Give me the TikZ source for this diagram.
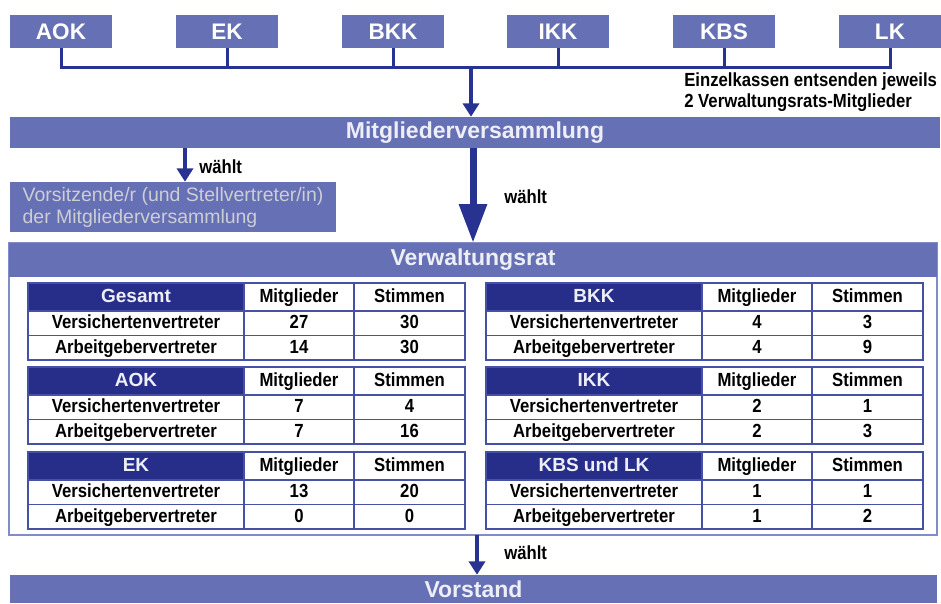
\documentclass[tikz,border=0pt]{standalone}
\usepackage{fontspec}
\setmainfont{Liberation Sans}
\newfontfamily\condfont[FakeStretch=0.88]{Liberation Sans}
\usetikzlibrary{arrows.meta}

\definecolor{balkenblau}{RGB}{102,112,180}
\definecolor{kopfblau}{RGB}{38,46,138}
\definecolor{linienblau}{RGB}{40,50,145}
\definecolor{gitterblau}{RGB}{70,80,165}
\definecolor{rahmenblau}{RGB}{130,140,200}
\definecolor{hellschrift}{RGB}{238,238,246}
\definecolor{grauschrift}{RGB}{205,205,212}

\newcommand{\pix}[1]{#1*0.75pt}

\tikzset{
  kasse/.style={fill=balkenblau, text=white, inner sep=0pt,
    minimum width=\pix{102}, minimum height=\pix{33},
    font=\fontsize{16.9}{20}\selectfont\bfseries},
  balken/.style={fill=balkenblau, text=hellschrift, inner sep=0pt,
    font=\fontsize{17.25}{20}\selectfont\bfseries},
  vorsbox/.style={fill=balkenblau, text=grauschrift, inner sep=0pt, align=left,
    minimum width=\pix{326}, minimum height=\pix{50},
    font=\fontsize{14.6}{16.5}\selectfont},
  kopf/.style={fill=kopfblau, draw=gitterblau, line width=1.1pt, text=hellschrift,
    inner sep=0pt, text height=10.5pt, text depth=2.5pt,
    font=\fontsize{14.25}{16}\selectfont\bfseries},
  zelle/.style={fill=white, draw=gitterblau, line width=1.1pt, text=black,
    inner sep=0pt, text height=10.5pt, text depth=2.5pt,
    font=\condfont\fontsize{14.25}{16}\selectfont\bfseries},
  beschr/.style={anchor=west, inner sep=0pt, align=left,
    font=\condfont\fontsize{14.25}{16}\selectfont\bfseries},
  leitung/.style={draw=linienblau, line width=2.25pt},
  pfeil/.style={draw=linienblau, line width=2.5pt, -{Triangle[length=10pt,width=12pt]}},
  grosspfeil/.style={draw=linienblau, line width=5.25pt, -{Triangle[length=29pt,width=20pt]}}
}

% table of one Kasse: name, left x, top y, title, VV Mitglieder, VV Stimmen, AG Mitglieder, AG Stimmen
\newcommand{\kassentab}[8]{%
  \node[kopf, minimum width=\pix{216}, minimum height=\pix{28}] (#1-kopf) at ({#2+108},{#3+14}) {#4};
  \node[zelle, minimum width=\pix{110}, minimum height=\pix{28}] (#1-mk) at ({#2+271},{#3+14}) {Mitglieder};
  \node[zelle, minimum width=\pix{111}, minimum height=\pix{28}] (#1-sk) at ({#2+381.5},{#3+14}) {Stimmen};
  \node[zelle, minimum width=\pix{216}, minimum height=\pix{24.5}] (#1-vv) at ({#2+108},{#3+40.25}) {Versichertenvertreter};
  \node[zelle, minimum width=\pix{110}, minimum height=\pix{24.5}] (#1-vvm) at ({#2+271},{#3+40.25}) {#5};
  \node[zelle, minimum width=\pix{111}, minimum height=\pix{24.5}] (#1-vvs) at ({#2+381.5},{#3+40.25}) {#6};
  \node[zelle, minimum width=\pix{216}, minimum height=\pix{24.5}] (#1-ag) at ({#2+108},{#3+64.75}) {Arbeitgebervertreter};
  \node[zelle, minimum width=\pix{110}, minimum height=\pix{24.5}] (#1-agm) at ({#2+271},{#3+64.75}) {#7};
  \node[zelle, minimum width=\pix{111}, minimum height=\pix{24.5}] (#1-ags) at ({#2+381.5},{#3+64.75}) {#8};
}

\begin{document}
\begin{tikzpicture}[x=0.75pt,y=0.75pt,yscale=-1,xscale=1]
\useasboundingbox (0,0) rectangle (941,603);
\clip (0,0) rectangle (941,603);

% Kassen
\node[kasse] (aok) at (61,31.5) {AOK};
\node[kasse] (ek) at (227,31.5) {EK};
\node[kasse] (bkk) at (393,31.5) {BKK};
\node[kasse] (ikk) at (558,31.5) {IKK};
\node[kasse] (kbs) at (724,31.5) {KBS};
\node[kasse] (lk) at (890,31.5) {LK};

% Sammelleitung
\coordinate (bus) at (471,67);
\draw[leitung] (aok.south) -- (aok.south |- bus) -- (lk.south |- bus) -- (lk.south);
\foreach \k in {ek,bkk,ikk,kbs}
  \draw[leitung] (\k.south) -- (\k.south |- bus);
\node[beschr] (einzel) at (684,92) {Einzelkassen entsenden jeweils\\2 Verwaltungsrats-Mitglieder};

% Mitgliederversammlung
\node[balken, minimum width=\pix{930}, minimum height=\pix{31}] (mv) at (475,132.5) {Mitgliederversammlung};
\draw[pfeil] (bus) -- (bus |- mv.north);

% Vorsitz
\node[vorsbox] (vors) at (173,207) {Vorsitzende/r (und Stellvertreter/in)\\der Mitgliederversammlung};
\coordinate (w1) at (185,148);
\draw[pfeil] (w1) -- (w1 |- vors.north);
\node[beschr] (wl1) at (199,167) {wählt};

% Verwaltungsrat
\node[draw=rahmenblau, line width=1.5pt, inner sep=0pt, minimum width=\pix{928}, minimum height=\pix{292}] (vr) at (473,389) {};
\node[balken, minimum width=\pix{928}, minimum height=\pix{34}] (vrk) at (473,260) {Verwaltungsrat};
\draw[grosspfeil] (mv.south -| vrk.north) -- (vrk.north);
\node[beschr] (wl2) at (504,197) {wählt};

\kassentab{ges}{28}{283}{Gesamt}{27}{30}{14}{30}
\kassentab{aokt}{28}{367}{AOK}{7}{4}{7}{16}
\kassentab{ekt}{28}{452}{EK}{13}{20}{0}{0}
\kassentab{bkkt}{486}{283}{BKK}{4}{3}{4}{9}
\kassentab{ikkt}{486}{367}{IKK}{2}{1}{2}{3}
\kassentab{kbst}{486}{452}{KBS und LK}{1}{1}{1}{2}

% Vorstand
\node[balken, minimum width=\pix{927}, minimum height=\pix{28}] (vst) at (473.5,589) {Vorstand};
\coordinate (w3) at (477,535);
\draw[pfeil] (w3) -- (w3 |- vst.north);
\node[beschr] (wl3) at (504,553) {wählt};
\end{tikzpicture}
\end{document}
